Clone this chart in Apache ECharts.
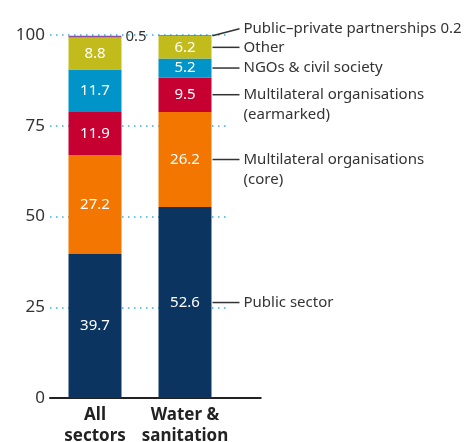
<!DOCTYPE html>
<html>
<head>
<meta charset="utf-8">
<script src="https://cdn.jsdelivr.net/npm/echarts@6/dist/echarts.min.js"></script>
<style>
  html, body { margin: 0; padding: 0; background: #fff; }
  #chart { width: 465px; height: 442px; }
</style>
</head>
<body>
<div id="chart"></div>
<script>
// categories and shares (%) bottom to top
const categories = ['All\nsectors', 'Water &\nsanitation'];
const seriesNames = [
  'Public sector',
  'Multilateral organisations\n(core)',
  'Multilateral organisations\n(earmarked)',
  'NGOs & civil society',
  'Other',
  'Public–private partnerships'
];
const allSectors = [39.7, 27.2, 11.9, 11.7, 8.8, 0.5];
const waterSanitation = [52.6, 26.2, 9.5, 5.2, 6.2, 0.2];
const yTicks = [0, 25, 50, 75, 100];

const colors = ['#0c3460', '#f27600', '#c70032', '#0094c9', '#c2bb1c', '#8e4a9e'];
const font = 'Noto Sans';
const textColor = '#333';
const barWidth = 53;

const chart = echarts.init(document.getElementById('chart'));

const series = seriesNames.map((name, i) => {
  const isTop = i === seriesNames.length - 1;
  return {
    name: name,
    type: 'bar',
    stack: 'total',
    barWidth: barWidth,
    itemStyle: { color: colors[i] },
    label: {
      show: true,
      position: isTop ? 'right' : 'inside',
      color: isTop ? textColor : '#fff',
      fontFamily: font,
      fontSize: 15,
      distance: 4,
      formatter: p => (isTop && p.dataIndex === 1) ? '' : String(p.value)
    },
    data: [allSectors[i], waterSanitation[i]]
  };
});

chart.setOption({
  animation: false,
  grid: { left: 50, right: 235, top: 35, bottom: 44, outerBoundsMode: 'none' },
  xAxis: {
    type: 'category',
    data: categories,
    axisTick: { show: false },
    axisLine: { lineStyle: { color: '#222', width: 2 } },
    axisLabel: {
      interval: 0,
      color: '#222',
      fontFamily: font,
      fontWeight: 'bold',
      fontSize: 17,
      lineHeight: 21,
      margin: 7
    }
  },
  yAxis: {
    type: 'value',
    min: 0,
    max: 100,
    interval: 25,
    axisLine: { show: false },
    axisTick: { show: false },
    axisLabel: {
      color: textColor,
      fontFamily: font,
      fontSize: 17,
      margin: 5,
      formatter: v => yTicks.includes(v) ? String(v) : ''
    },
    splitLine: {
      lineStyle: { color: '#3aaee0', type: [1.5, 4.5], width: 1.5 }
    }
  },
  series: series
});

// right-hand labels for the water & sanitation bar, placed through the axes
const graphics = [];
const p0 = chart.convertToPixel({ xAxisIndex: 0, yAxisIndex: 0 }, [1, 0]);
const xRight = p0[0] + barWidth / 2;
graphics.push({
  type: 'line',
  shape: { x1: xRight, y1: p0[1], x2: xRight + 50, y2: p0[1] },
  style: { stroke: '#222', lineWidth: 2 }
});

let cum = 0;
waterSanitation.forEach((v, i) => {
  const mid = chart.convertToPixel({ xAxisIndex: 0, yAxisIndex: 0 }, [1, cum + v / 2]);
  cum += v;
  const isTop = i === waterSanitation.length - 1;
  const yText = isTop ? mid[1] - 7 : mid[1];
  graphics.push({
    type: 'line',
    shape: { x1: xRight + 1, y1: mid[1], x2: xRight + 28, y2: yText },
    style: { stroke: '#333', lineWidth: 1.5 }
  });
  const label = isTop ? seriesNames[i] + ' ' + v : seriesNames[i];
  graphics.push({
    type: 'text',
    x: xRight + 32,
    y: yText - 10,
    style: {
      text: label,
      fill: textColor,
      font: '15px "' + font + '"',
      lineHeight: 20,
      textVerticalAlign: 'top'
    }
  });
});

chart.setOption({ graphic: graphics });
</script>
</body>
</html>
